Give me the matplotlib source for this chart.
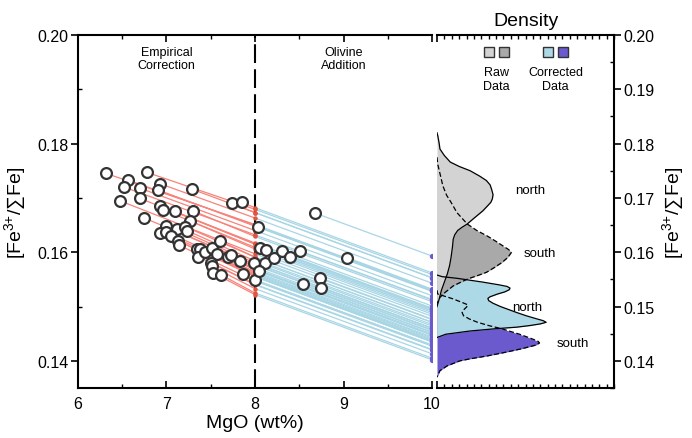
import numpy as np
import matplotlib.pyplot as plt
from matplotlib.ticker import MultipleLocator, FormatStrFormatter, FixedLocator

plt.rcParams['font.family'] = ['Liberation Sans', 'DejaVu Sans']
plt.rcParams['mathtext.fontset'] = 'custom'
plt.rcParams['mathtext.rm'] = 'Liberation Sans'
plt.rcParams['mathtext.it'] = 'Liberation Sans'

# raw data (circles)
mgo = [6.32, 6.56, 6.52, 6.47, 6.78, 6.70, 6.70, 6.93, 6.90, 7.29,
       6.75, 6.93, 6.96, 7.10, 7.30, 7.26, 6.99, 7.12, 7.21, 6.93,
       7.00, 7.05, 7.13, 7.14, 7.23, 7.35, 7.38, 7.36, 7.44, 7.51,
       7.57, 7.60, 7.50, 7.51, 7.53, 7.62, 7.69, 7.73, 7.83, 7.87,
       7.74, 7.85, 7.99,
       8.00, 8.03, 8.06, 8.12, 8.11, 8.05, 8.21, 8.31, 8.40, 8.51,
       8.68, 8.73, 8.75, 8.54, 9.04]
fe = [0.1745, 0.1733, 0.1720, 0.1695, 0.1747, 0.1718, 0.1699, 0.1726, 0.1715, 0.1716,
      0.1663, 0.1685, 0.1678, 0.1675, 0.1676, 0.1658, 0.1648, 0.1643, 0.1647, 0.1635,
      0.1637, 0.1630, 0.1621, 0.1613, 0.1640, 0.1606, 0.1606, 0.1592, 0.1600, 0.1607,
      0.1596, 0.1621, 0.1581, 0.1574, 0.1562, 0.1558, 0.1592, 0.1594, 0.1583, 0.1560,
      0.1690, 0.1692, 0.1581,
      0.1549, 0.1647, 0.1608, 0.1605, 0.1580, 0.1565, 0.1589, 0.1602, 0.1592, 0.1602,
      0.1672, 0.1552, 0.1535, 0.1541, 0.1590]
# value after empirical correction to 8 wt% MgO (only for samples below 8)
fe_at8 = [0.1651, 0.1650, 0.1632, 0.1597, 0.1679, 0.1640, 0.1617, 0.1663, 0.1648, 0.1673,
          0.1577, 0.1615, 0.1609, 0.1615, 0.1629, 0.1606, 0.1576, 0.1580, 0.1591, 0.1557,
          0.1564, 0.1560, 0.1555, 0.1547, 0.1584, 0.1555, 0.1558, 0.1541, 0.1556, 0.1569,
          0.1562, 0.1591, 0.1540, 0.1533, 0.1522, 0.1525, 0.1567, 0.1572, 0.1569, 0.1549,
          0.1673, 0.1682, 0.1580]
# value after olivine addition to 10 wt% MgO
fe_at10 = [0.1531, 0.1530, 0.1512, 0.1477, 0.1559, 0.1520, 0.1497, 0.1543, 0.1528, 0.1553,
           0.1457, 0.1495, 0.1489, 0.1495, 0.1509, 0.1486, 0.1456, 0.1460, 0.1471, 0.1437,
           0.1444, 0.1440, 0.1435, 0.1427, 0.1464, 0.1435, 0.1438, 0.1421, 0.1436, 0.1449,
           0.1442, 0.1471, 0.1420, 0.1413, 0.1402, 0.1405, 0.1447, 0.1452, 0.1449, 0.1429,
           0.1553, 0.1562, 0.1460,
           0.1429, 0.1529, 0.1492, 0.1492, 0.1467, 0.1448, 0.1482, 0.1501, 0.1496, 0.1513,
           0.1593, 0.1476, 0.1460, 0.1453, 0.1532]
mgo_emp = 8.0
mgo_ol = 10.0

# density curves (Fe3+/sumFe, density)
raw_n_fe = [0.1820, 0.1815, 0.1800, 0.1790, 0.1778, 0.1766, 0.1758, 0.1750, 0.1740, 0.1732, 0.1724,
            0.1716, 0.1706, 0.1698, 0.1692, 0.1686, 0.1676, 0.1667, 0.1659, 0.1652, 0.1646,
            0.1640, 0.1632, 0.1624, 0.1610, 0.1590, 0.1575, 0.1560, 0.1545, 0.1530, 0.1514, 0.1500]
raw_n_den = [0, 1, 3, 4, 10, 18, 30, 45, 58, 67, 72,
             74, 76, 75, 73, 69, 62, 54, 47, 41, 34,
             28, 24, 22, 21, 19, 17, 14, 10, 6, 3, 0]
raw_s_fe = [0.1775, 0.1762, 0.1745, 0.1722, 0.1705, 0.1692, 0.1673, 0.1652, 0.1640, 0.1630,
            0.1620, 0.1612, 0.1605, 0.1600, 0.1594, 0.1588, 0.1581, 0.1572, 0.1563, 0.1557,
            0.1551, 0.1544, 0.1538, 0.1526, 0.1517, 0.1505]
raw_s_den = [0, 1, 4, 8, 13, 19, 27, 41, 54, 68,
             80, 89, 97, 101, 98, 94, 88, 78, 67, 55,
             42, 31, 22, 11, 4, 0]
cor_n_fe = [0.1558, 0.1555, 0.1552, 0.1545, 0.1540, 0.1537, 0.1534, 0.1531, 0.1527, 0.1523, 0.1518,
            0.1515, 0.1511, 0.1506, 0.1500, 0.1495, 0.1489, 0.1483, 0.1477, 0.1474, 0.1471,
            0.1468, 0.1465, 0.1462, 0.1459, 0.1455, 0.1449, 0.1443]
cor_n_den = [0, 7, 27, 62, 84, 95, 99, 98, 92, 82, 72,
             69, 70, 76, 86, 96, 108, 121, 136, 144, 148,
             140, 126, 108, 78, 45, 12, 0]
cor_s_fe = [0.1530, 0.1523, 0.1514, 0.1507, 0.1503, 0.1499, 0.1495, 0.1489, 0.1483, 0.1477, 0.1471,
            0.1465, 0.1459, 0.1449, 0.1441, 0.1436, 0.1433, 0.1429, 0.1422, 0.1415, 0.1409,
            0.1404, 0.1400, 0.1391, 0.1382, 0.1370]
cor_s_den = [0, 1, 22, 35, 42, 40, 37, 34, 36, 44, 55,
             70, 88, 112, 128, 137, 139, 134, 114, 90, 68,
             46, 31, 14, 4, 0]

red_line = '#f7837a'
red_pt = '#e0553e'
blue_line = '#a9d6e5'
purple = '#6a5acd'
ylab = '[Fe$^{3{+}}$/\u2211Fe]'

fig = plt.figure(figsize=(6.92, 4.39), dpi=100)
ax = fig.add_axes([0.1127, 0.1139, 0.5116, 0.8041])
ax2 = fig.add_axes([0.6315, 0.1139, 0.2558, 0.8041])

# correction paths
for i in range(len(mgo)):
    if mgo[i] < mgo_emp:
        ax.plot([mgo[i], mgo_emp], [fe[i], fe_at8[i]], color=red_line, lw=0.9, zorder=1)
        ax.plot([mgo_emp, mgo_ol], [fe_at8[i], fe_at10[i]], color=blue_line, lw=0.9, zorder=1)
    else:
        ax.plot([mgo[i], mgo_ol], [fe[i], fe_at10[i]], color=blue_line, lw=0.9, zorder=1)

ax.axvline(mgo_emp, color='k', lw=1.5, dashes=(9, 3), zorder=2)
n8 = len(fe_at8)
ax.plot([mgo_emp] * n8, fe_at8, 'o', color=red_pt, ms=3.2, mec='none', zorder=3)
ax.plot([mgo_ol] * len(fe_at10), fe_at10, 'o', color=purple, ms=3.8, mec='none', zorder=3)
ax.plot(mgo, fe, 'o', mfc='white', mec='#333333', mew=1.6, ms=7.8, zorder=4)

ax.text(7.0, 0.1957, 'Empirical\nCorrection', ha='center', va='center', fontsize=9, linespacing=1.1)
ax.text(9.0, 0.1957, 'Olivine\nAddition', ha='center', va='center', fontsize=9, linespacing=1.1)

ax.set_xlim(6, 10)
ax.set_ylim(0.135, 0.20)
ax.xaxis.set_major_locator(MultipleLocator(1))
ax.xaxis.set_minor_locator(MultipleLocator(0.5))
ax.yaxis.set_major_locator(MultipleLocator(0.02))
ax.yaxis.set_minor_locator(MultipleLocator(0.01))
ax.yaxis.set_major_formatter(FormatStrFormatter('%.2f'))
ax.tick_params(axis='x', which='major', direction='in', top=True, length=5, width=1.2, labelsize=11.5, pad=6)
ax.tick_params(axis='x', which='minor', direction='in', top=True, length=3, width=1.0)
ax.tick_params(axis='y', which='major', direction='out', length=5, width=1.2, labelsize=11.5, pad=2)
ax.tick_params(axis='y', which='minor', direction='in', length=3, width=1.0)
ax.spines['right'].set_visible(False)
for s in ['left', 'top', 'bottom']:
    ax.spines[s].set_linewidth(1.5)
ax.set_xlabel('MgO (wt%)', fontsize=14, labelpad=2)
ax.set_ylabel(ylab, fontsize=14)
ax.yaxis.set_label_coords(-0.143, 0.5)

# density panel
ax2.fill_betweenx(cor_s_fe, 0, cor_s_den, color=purple, lw=0, zorder=1)
ax2.fill_betweenx(cor_n_fe, 0, cor_n_den, color='#add8e6', lw=0, zorder=2)
ax2.fill_betweenx(raw_s_fe, 0, raw_s_den, color='#a9a9a9', lw=0, zorder=3)
ax2.fill_betweenx(raw_n_fe, 0, raw_n_den, color='#d3d3d3', lw=0, zorder=4)
ax2.plot(cor_s_den, cor_s_fe, color='k', lw=0.9, dashes=(4, 2), zorder=5)
ax2.plot(cor_n_den, cor_n_fe, color='k', lw=0.9, zorder=5)
ax2.plot(raw_s_den, raw_s_fe, color='k', lw=0.9, dashes=(4, 2), zorder=5)
ax2.plot(raw_n_den, raw_n_fe, color='k', lw=0.9, zorder=5)

ax2.text(126, 0.1715, 'north', ha='center', va='center', fontsize=9.5)
ax2.text(140, 0.1599, 'south', ha='center', va='center', fontsize=9.5)
ax2.text(123, 0.1499, 'north', ha='center', va='center', fontsize=9.5)
ax2.text(184, 0.1433, 'south', ha='center', va='center', fontsize=9.5)

# legend swatches
for xs, col in [(0.294, '#d3d3d3'), (0.379, '#a9a9a9'), (0.627, '#add8e6'), (0.712, purple)]:
    ax2.plot([xs], [0.953], 's', transform=ax2.transAxes, ms=7.5, mfc=col, mec='#333333', mew=1.0)
ax2.text(0.337, 0.875, 'Raw\nData', transform=ax2.transAxes, ha='center', va='center', fontsize=9, linespacing=1.15)
ax2.text(0.670, 0.875, 'Corrected\nData', transform=ax2.transAxes, ha='center', va='center', fontsize=9, linespacing=1.15)

ax2.set_title('Density', fontsize=14, pad=7)
ax2.set_xlim(0, 240)
ax2.set_ylim(0.135, 0.20)
ax2.yaxis.tick_right()
ax2.yaxis.set_label_position('right')
ax2.yaxis.set_major_locator(MultipleLocator(0.01))
ax2.yaxis.set_minor_locator(MultipleLocator(0.005))
ax2.yaxis.set_major_formatter(FormatStrFormatter('%.2f'))
ax2.xaxis.set_major_locator(FixedLocator([0]))
ax2.xaxis.set_minor_locator(MultipleLocator(10))
ax2.tick_params(axis='x', which='both', direction='in', top=True, bottom=True, labelbottom=False)
ax2.tick_params(axis='x', which='major', length=5, width=1.2)
ax2.tick_params(axis='x', which='minor', length=3, width=1.0)
ax2.tick_params(axis='y', which='major', direction='out', length=5, width=1.2, labelsize=11.5, pad=2)
ax2.tick_params(axis='y', which='minor', direction='in', length=3, width=1.0)
ax2.spines['left'].set_visible(False)
for s in ['right', 'top', 'bottom']:
    ax2.spines[s].set_linewidth(1.5)
ax2.set_ylabel(ylab, fontsize=14)
ax2.yaxis.set_label_coords(1.26, 0.5)

fig.savefig('out.png', dpi=100)
